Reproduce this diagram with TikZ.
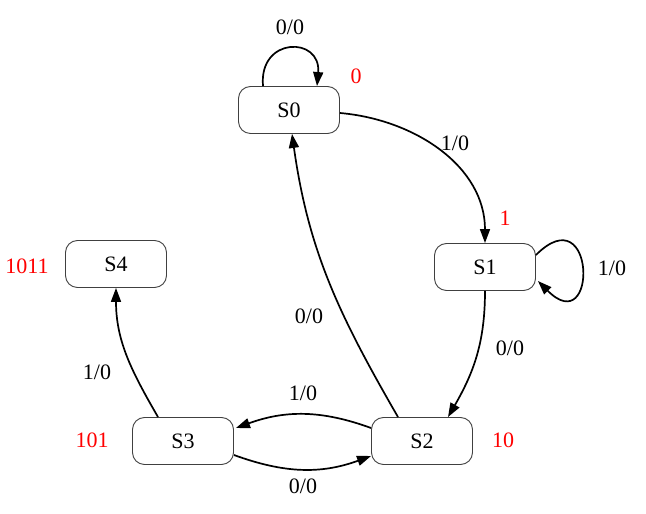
\documentclass[tikz,border=0pt]{standalone}
\usepackage{fontspec}
\setmainfont{Liberation Serif}
\usetikzlibrary{arrows.meta}

\begin{document}
\begin{tikzpicture}[x=1pt, y=1pt,
    state/.style={draw=black!75, line width=0.9pt, rounded corners=12pt, minimum width=101pt, minimum height=47pt, inner sep=0pt, font=\fontsize{22}{26}\selectfont},
    trans/.style={inner sep=0pt, font=\fontsize{22}{26}\selectfont},
    outval/.style={inner sep=0pt, text=red, font=\fontsize{22}{26}\selectfont},
    link/.style={line width=1.7pt, -{Triangle[length=14pt, width=10pt]}}]
  \useasboundingbox (0,0) rectangle (646,514);

  % States
  \node[state] (s0) at (289,404) {S0};
  \node[state] (s1) at (485,247) {S1};
  \node[state] (s2) at (422,73) {S2};
  \node[state] (s3) at (183,73) {S3};
  \node[state] (s4) at (116,250) {S4};

  % Outputs
  \node[outval] (o0) at (356,438) {0};
  \node[outval] (o1) at (505,296) {1};
  \node[outval] (o2) at (503,74) {10};
  \node[outval] (o3) at (92,74) {101};
  \node[outval] (o4) at (27,248) {1011};

  % Transitions
  \draw[link] ([xshift=-26pt]s0.north) .. controls +(95:50) and +(85:50) .. ([xshift=28pt]s0.north);
  \draw[link] ([yshift=-3pt]s0.east) to[out=-5, in=90] (s1.north);
  \draw[link] ([yshift=12pt]s1.east) .. controls +(45:85) and +(-45:85) .. ([xshift=2pt, yshift=-14pt]s1.east);
  \draw[link] (s1.south) to[out=-90, in=60] ([xshift=26pt]s2.north);
  \draw[link] ([xshift=-24pt]s2.north) to[out=120, in=-82] ([xshift=3pt]s0.south);
  \draw[link] ([yshift=13pt]s2.west) to[out=160, in=20] ([xshift=2pt, yshift=13pt]s3.east);
  \draw[link] ([yshift=-14pt]s3.east) to[out=-20, in=-160] ([yshift=-15pt]s2.west);
  \draw[link] ([xshift=-25pt]s3.north) to[out=120, in=-90] (s4.south);

  % Labels
  \node[trans] (t00) at (290,487) {0/0};
  \node[trans] (t01) at (455,371) {1/0};
  \node[trans] (t11) at (612,246) {1/0};
  \node[trans] (t12) at (510,166) {0/0};
  \node[trans] (t20) at (309,198) {0/0};
  \node[trans] (t23) at (303,121) {1/0};
  \node[trans] (t32) at (303,28) {0/0};
  \node[trans] (t34) at (97,142) {1/0};
\end{tikzpicture}
\end{document}
